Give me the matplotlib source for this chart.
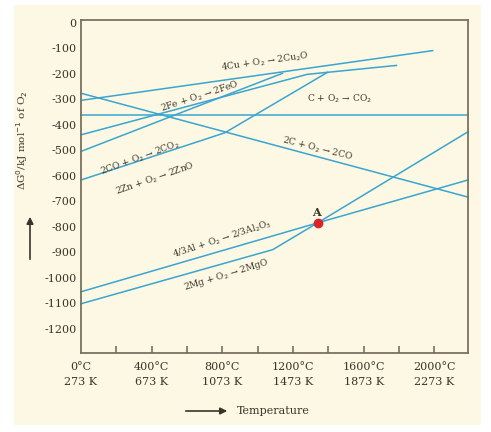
import matplotlib
matplotlib.use("Agg")
import matplotlib.pyplot as plt
from matplotlib.patches import Rectangle

# data (temperature in °C, ΔG in kJ/mol O2)
cu_x = [0, 1990]; cu_y = [-305, -110]
fe_x = [0, 1280, 1785]; fe_y = [-440, -203, -168]
co_x = [0, 1140]; co_y = [-505, -199]
zn_x = [0, 814, 1395]; zn_y = [-617, -432, -195]
cco2_x = [0, 2190]; cco2_y = [-362, -362]
cco_x = [0, 2190]; cco_y = [-277, -684]
al_x = [0, 1339, 2190]; al_y = [-1055, -785, -617]
mg_x = [0, 1085, 1339, 2190]; mg_y = [-1102, -890, -785, -428]
point_A = (1339, -785)
xticks = [0, 400, 800, 1200, 1600, 2000]
xlabels = ["0°C\n273 K", "400°C\n673 K", "800°C\n1073 K", "1200°C\n1473 K", "1600°C\n1873 K", "2000°C\n2273 K"]
yticks = list(range(0, -1201, -100))

bg = "#fcf8e4"
lc = "#3aa5cf"
tc = "#3a3328"
fig = plt.figure(figsize=(4.91, 4.32), dpi=100)
fig.patches.append(Rectangle((14/491, 1-425/432), 467/491, 420/432, transform=fig.transFigure,
                             facecolor=bg, edgecolor="none", zorder=-10))
ax = fig.add_axes([81/491, 1-353/432, 387/491, 333/432])
ax.set_facecolor(bg)
for xs, ys in [(cu_x, cu_y), (fe_x, fe_y), (co_x, co_y), (zn_x, zn_y), (cco2_x, cco2_y),
               (cco_x, cco_y), (al_x, al_y), (mg_x, mg_y)]:
    ax.plot(xs, ys, color=lc, lw=1.1, clip_on=False)
ax.plot(*point_A, 'o', color="#d8242a", ms=6, zorder=5)
ax.text(point_A[0]-30, point_A[1]+25, "A", fontsize=8, fontweight="bold", color=tc, family="serif")
ax.set_xlim(0, 2190)
ax.set_ylim(-1295, 10)
for s in ax.spines.values():
    s.set_color("#7a7060"); s.set_linewidth(1.3)
ax.set_yticks(yticks)
ax.set_yticklabels([str(v) for v in yticks], fontsize=8, color=tc, family="serif")
ax.tick_params(axis="y", length=0, pad=3)
ax.set_xticks(range(200, 2100, 200), minor=False)
ax.set_xticklabels([])
ax.tick_params(axis="x", direction="in", length=5, color="#7a7060", width=1.2)
for x, l in zip(xticks, xlabels):
    ax.text(x, -1330, l, ha="center", va="top", fontsize=8, color=tc, family="serif", linespacing=1.6)
kw = dict(fontsize=6.5, color=tc, family="serif", ha="center", va="center")
ax.text(1040, -155, r"4Cu + O$_2$ → 2Cu$_2$O", rotation=8, **kw)
ax.text(672, -290, r"2Fe + O$_2$ → 2FeO", rotation=18, **kw)
ax.text(1463, -300, r"C + O$_2$ → CO$_2$", **kw)
ax.text(333, -532, r"2CO + O$_2$ → 2CO$_2$", rotation=20, **kw)
ax.text(418, -612, r"2Zn + O$_2$ → 2ZnO", rotation=19, **kw)
ax.text(1339, -494, r"2C + O$_2$ → 2CO", rotation=-14, **kw)
ax.text(797, -850, r"4/3Al + O$_2$ → 2/3Al$_2$O$_3$", rotation=18, **kw)
ax.text(825, -990, r"2Mg + O$_2$ → 2MgO", rotation=17, **kw)
fig.text(22/491, 1-140/432, r"ΔG$^0$/kJ mol$^{-1}$ of O$_2$", rotation=90, fontsize=7.5, color=tc,
         family="serif", ha="center", va="center")
ax.annotate("", xy=(30/491, 1-214/432), xytext=(30/491, 1-262/432), xycoords="figure fraction",
            arrowprops=dict(arrowstyle="-|>", color=tc, lw=1.2))
ax.annotate("", xy=(230/491, 1-411/432), xytext=(183/491, 1-411/432), xycoords="figure fraction",
            arrowprops=dict(arrowstyle="-|>", color=tc, lw=1.2))
fig.text(237/491, 1-411/432, "Temperature", fontsize=8, color=tc, family="serif", va="center")
fig.savefig("out.png", dpi=100)
